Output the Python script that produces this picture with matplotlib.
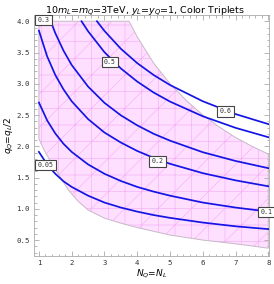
import matplotlib
matplotlib.use('Agg')
import matplotlib.pyplot as plt
from matplotlib.patches import Polygon
from matplotlib.ticker import MultipleLocator

# contour lines, N on x, q on y
x_full = [1.0, 1.25, 1.5, 1.75, 2.0, 2.5, 3.0, 3.5, 4.0, 4.5, 5.0, 6.0, 7.0, 8.0]
y_005 = [1.91, 1.71, 1.56, 1.44, 1.35, 1.21, 1.10, 1.02, 0.955, 0.90, 0.855, 0.78, 0.72, 0.675]
y_01 = [2.70, 2.415, 2.205, 2.04, 1.91, 1.71, 1.56, 1.445, 1.35, 1.275, 1.21, 1.10, 1.02, 0.955]
y_02 = [3.85, 3.44, 3.14, 2.91, 2.72, 2.435, 2.22, 2.06, 1.925, 1.815, 1.72, 1.57, 1.455, 1.36]

x_03 = [1.36, 1.5, 1.75, 2.0, 2.5, 3.0, 3.5, 4.0, 4.5, 5.0, 6.0, 7.0, 8.0]
y_03 = [4.0, 3.81, 3.53, 3.30, 2.955, 2.695, 2.495, 2.335, 2.20, 2.09, 1.905, 1.765, 1.65]

x_05 = [2.30, 2.5, 3.0, 3.5, 4.0, 4.5, 5.0, 6.0, 7.0, 8.0]
y_05 = [4.0, 3.84, 3.505, 3.245, 3.035, 2.86, 2.715, 2.48, 2.295, 2.145]

x_06 = [2.77, 3.0, 3.5, 4.0, 4.5, 5.0, 6.0, 7.0, 8.0]
y_06 = [4.0, 3.845, 3.56, 3.33, 3.14, 2.98, 2.72, 2.515, 2.355]

contour_lines = [(x_full, y_005), (x_full, y_01), (x_full, y_02),
                 (x_03, y_03), (x_05, y_05), (x_06, y_06)]

# contour labels: text, N, q
label_text = ['0.3', '0.5', '0.6', '0.2', '0.1', '0.05']
label_x = [1.15, 3.17, 6.69, 4.61, 7.94, 1.21]
label_y = [4.02, 3.35, 2.56, 1.76, 0.95, 1.70]

# allowed region outline
region_x = [1.0, 3.75, 4.0, 4.5, 5.0, 5.5, 6.0, 6.5, 7.0, 7.5, 8.0,
            8.0, 7.0, 6.0, 5.0, 4.0, 3.5, 3.0, 2.5, 2.16, 1.9, 1.6, 1.35, 1.15, 1.0]
region_y = [4.0, 4.0, 3.75, 3.33, 3.0, 2.73, 2.5, 2.31, 2.14, 2.0, 1.875,
            0.37, 0.44, 0.50, 0.58, 0.70, 0.77, 0.85, 0.98, 1.14, 1.30, 1.55, 1.76, 1.95, 2.12]

x_ticks = [1, 2, 3, 4, 5, 6, 7, 8]
y_ticks = [0.5, 1.0, 1.5, 2.0, 2.5, 3.0, 3.5, 4.0]

plt.rcParams['hatch.linewidth'] = 0.45

fig = plt.figure(figsize=(2.74, 2.84), dpi=100)
ax = fig.add_axes([34 / 274, 28 / 284, 235 / 274, 241 / 284])

pts = list(zip(region_x, region_y))
ax.add_patch(Polygon(pts, closed=True, facecolor='#ffdfff', edgecolor='none', zorder=1))
ax.add_patch(Polygon(pts, closed=True, facecolor='none', edgecolor='#f5aff5',
                     hatch='+/', linewidth=0, zorder=1.5))
ax.add_patch(Polygon(pts, closed=True, facecolor='none', edgecolor='#c8b8c8',
                     linewidth=0.7, zorder=2))

for xs, ys in contour_lines:
    ax.plot(xs, ys, color='#1414e6', linewidth=1.25, zorder=3)

for t, lx, ly in zip(label_text, label_x, label_y):
    ax.text(lx, ly, t, ha='center', va='center', fontsize=4.8,
            family='DejaVu Sans Mono', color='#333333', zorder=5, clip_on=False,
            bbox=dict(boxstyle='square,pad=0.35', fc='white', ec='#444444', lw=0.8))

ax.set_xlim(0.85, 8.02)
ax.set_ylim(0.245, 4.1)
ax.set_xticks(x_ticks)
ax.set_yticks(y_ticks)
ax.set_xticklabels([str(v) for v in x_ticks])
ax.set_yticklabels(['%.1f' % v for v in y_ticks])
ax.xaxis.set_minor_locator(MultipleLocator(0.2))
ax.yaxis.set_minor_locator(MultipleLocator(0.1))
ax.tick_params(which='both', direction='in', top=True, right=True,
               color='#aaaaaa', width=0.6, labelsize=5.3, pad=3)
ax.tick_params(which='major', length=3.5)
ax.tick_params(which='minor', length=1.8)
for lab in ax.get_xticklabels() + ax.get_yticklabels():
    lab.set_family('DejaVu Sans Mono')
    lab.set_color('#333333')
for s in ax.spines.values():
    s.set_color('#aaaaaa')
    s.set_linewidth(0.6)

ax.set_xlabel('$N_Q$=$N_L$', fontsize=6.5, labelpad=1)
ax.set_ylabel('$q_Q$=$q_L$/2', fontsize=6.5, va='center')
ax.yaxis.set_label_coords(-0.11, 0.5)
fig.text(0.53, 0.985, '10$m_L$=$m_Q$=3TeV, $y_L$=$y_Q$=1, Color Triplets',
         ha='center', va='top', fontsize=6.8)

fig.savefig('out.png', dpi=100)
